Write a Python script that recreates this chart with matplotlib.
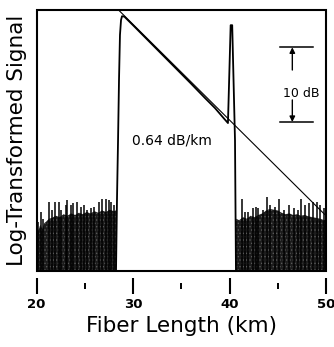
import matplotlib
matplotlib.use("Agg")
import matplotlib.pyplot as plt
from matplotlib.patches import Rectangle

# OTDR trace, log-transformed signal vs fiber length

# main backscatter trace (km, dB)
trace_km = [28.24, 28.34, 28.45, 28.55, 28.65, 28.76, 28.86, 29.1, 30.0, 32.0,
            34.0, 36.0, 37.5, 38.5, 39.3, 39.84, 40.12, 40.28, 40.57, 40.67]
trace_db = [-35.0, -25.5, -17.5, -9.4, -3.4, -1.4, -0.9, -0.95, -2.1, -4.7,
            -7.3, -9.9, -11.9, -13.2, -14.4, -15.2, -2.1, -2.1, -17.5, -35.0]

# fitted slope line (0.64 dB/km)
fit_km = [28.45, 50.0]
fit_db = [0.0, -27.6]

# noise floor, left of the fiber start
left_km = [20.0, 20.2, 20.4, 20.6, 20.8, 21.0, 21.3, 21.6, 22.0, 22.4, 22.8, 23.2,
           23.6, 24.0, 24.4, 24.8, 25.2, 25.6, 26.0, 26.4, 26.8, 27.2, 27.6, 28.0, 28.24]
left_db = [-29.0, -29.6, -28.8, -29.4, -28.6, -28.4, -28.0, -27.9, -27.6, -27.8, -27.4, -27.6,
           -27.3, -27.5, -27.2, -27.4, -27.1, -27.3, -27.0, -27.2, -26.9, -27.1, -26.8, -27.0, -26.9]
left_spike_km = [20.16, 20.50, 20.70, 21.30, 21.64, 21.89, 22.33, 22.51, 23.03, 23.19, 23.61, 23.81,
                 24.23, 24.58, 24.92, 25.26, 25.62, 25.96, 26.51, 26.82, 27.17, 27.51, 27.75, 28.03]
left_spike_db = [-28.4, -27.1, -28.0, -25.7, -26.8, -25.7, -25.7, -26.8, -26.2, -25.5, -26.2, -25.9,
                 -25.7, -26.4, -26.2, -26.8, -26.6, -26.4, -25.7, -25.3, -25.3, -25.5, -25.7, -26.2]

# noise floor, after the fiber end
right_km = [40.67, 41.0, 41.4, 41.8, 42.2, 42.6, 43.0, 43.4, 43.8, 44.2, 44.6, 45.0, 45.4,
            45.8, 46.2, 46.6, 47.0, 47.4, 47.8, 48.2, 48.6, 49.0, 49.4, 49.8, 50.0]
right_db = [-28.0, -28.2, -27.8, -28.0, -27.6, -27.8, -27.5, -27.3, -26.9, -26.7, -26.8, -26.9, -27.2,
            -27.4, -27.3, -27.5, -27.4, -27.6, -27.5, -27.7, -27.8, -27.9, -28.0, -28.2, -28.1]
right_spike_km = [41.26, 41.64, 41.92, 42.40, 42.75, 42.95, 43.44, 43.89, 44.23, 44.75, 45.10,
                  45.62, 46.14, 46.65, 47.10, 47.44, 47.86, 48.21, 48.65, 49.07, 49.41, 49.76]
right_spike_db = [-25.3, -27.1, -27.1, -26.6, -26.5, -26.6, -26.8, -25.1, -26.2, -26.4, -25.3,
                  -26.8, -26.2, -26.6, -26.8, -25.4, -26.2, -25.9, -25.7, -25.7, -26.2, -26.6]

# 10 dB scale bar
bar_km = [45.23, 48.65]
bar_db = [-5.06, -15.06]
arrow_tail_db = [-8.1, -12.1]
arrow_km = 46.51

xticks_major = [20, 30, 40, 50]
xticks_minor = [25, 35, 45]
y_bottom = -35.0

plt.rcParams['hatch.linewidth'] = 0.6
fig = plt.figure(figsize=(3.34, 3.47), dpi=100)
ax = fig.add_axes([36.5 / 334, 1 - 271 / 347, 289.5 / 334, 261.5 / 347])
ax.set_xlim(20, 50)
ax.set_ylim(y_bottom, 0)

dark = '#1c1c1c'
ax.fill_between(left_km, y_bottom, left_db, facecolor=dark, edgecolor='#5a5a5a',
                hatch='.....', lw=0)
ax.fill_between(right_km, y_bottom, right_db, facecolor=dark, edgecolor='#5a5a5a',
                hatch='.....', lw=0)
ax.vlines(left_spike_km, y_bottom, left_spike_db, color='black', lw=1.1)
ax.vlines(right_spike_km, y_bottom, right_spike_db, color='black', lw=1.1)

ax.plot(trace_km, trace_db, color='black', lw=1.3)
ax.plot(fit_km, fit_db, color='black', lw=0.8)

for yb in bar_db:
    ax.plot(bar_km, [yb, yb], color='black', lw=1.1)
for tip, tail in zip(bar_db, arrow_tail_db):
    ax.annotate('', xy=(arrow_km, tip), xytext=(arrow_km, tail),
                arrowprops=dict(arrowstyle='-|>', color='black', lw=1,
                                mutation_scale=8, shrinkA=0, shrinkB=0))
ax.text(47.46, -11.2, '10 dB', fontsize=9, ha='center', va='center')
ax.text(34.04, -17.6, '0.64 dB/km', fontsize=10, ha='center', va='center')

# box drawn separately so the x ticks can sit below it
for s in ax.spines.values():
    s.set_visible(False)
ax.add_patch(Rectangle((0, 0), 1, 1, transform=ax.transAxes, fill=False,
                       lw=1.5, color='black', clip_on=False))
ax.spines['bottom'].set_position(('outward', 10.8))

ax.set_yticks([])
ax.set_xticks(xticks_major)
ax.set_xticks(xticks_minor, minor=True)
ax.tick_params(axis='x', which='major', direction='inout', length=11.5, width=1.5,
               pad=3.2, labelsize=9.5)
ax.tick_params(axis='x', which='minor', direction='inout', length=4.3, width=1.4)
for lab in ax.get_xticklabels():
    lab.set_fontweight('bold')

ax.set_xlabel('Fiber Length (km)', fontsize=15.5, labelpad=3.5)
ax.set_ylabel('Log-Transformed Signal', fontsize=15.5, labelpad=6.8)

fig.savefig('out.png', dpi=100)
